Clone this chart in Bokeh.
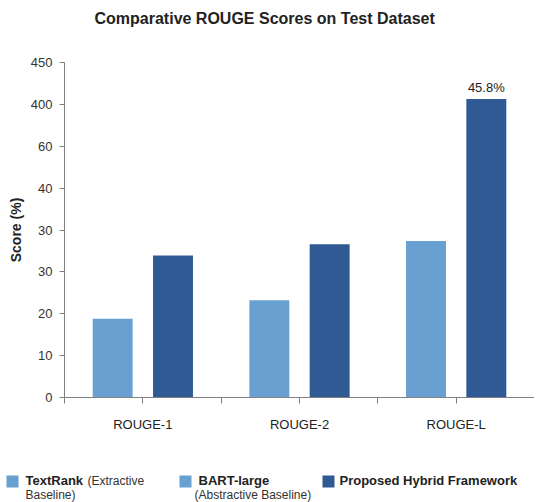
from bokeh.plotting import figure
from bokeh.models import Range1d, FixedTicker, ColumnDataSource, Title
from bokeh.embed import file_html
from bokeh.resources import INLINE
from bokeh.core.properties import value
from bokeh.transform import dodge

# ---- data (values in axis units; the y axis carries the source's tick labels) ----
categories = ["ROUGE-1", "ROUGE-2", "ROUGE-L"]
baseline_scores = [18.8, 23.2, 37.4]
hybrid_scores = [33.9, 36.6, 71.3]
hybrid_labels = ["", "", "45.8%"]
y_ticks = [0, 10, 20, 30, 40, 50, 60, 70, 80]
y_tick_labels = ["0", "10", "20", "30", "30", "40", "60", "400", "450"]

legend_names = ["TextRank", "BART-large", "Proposed Hybrid Framework"]
legend_notes = ["(Extractive", "Baseline)", "(Abstractive Baseline)"]

LIGHT = "#68a0d2"
DARK = "#305a94"
FONT = "Liberation Sans"
W = 534

positions = [2 * i + 1 for i in range(len(categories))]
src = ColumnDataSource(dict(pos=positions, cat=categories, base=baseline_scores,
                            hyb=hybrid_scores, lab=hybrid_labels))

p = figure(width=W, height=434, output_backend="svg", toolbar_location=None,
           x_range=Range1d(0, 6), y_range=Range1d(0, 80), title=None,
           min_border_left=64, min_border_right=0, min_border_top=62, min_border_bottom=35)
p.outline_line_color = None
p.xgrid.visible = False
p.ygrid.visible = False

p.vbar(x=dodge("pos", -0.385, range=p.x_range), top="base", width=0.51, source=src,
       fill_color=LIGHT, line_color=None)
p.vbar(x=dodge("pos", 0.385, range=p.x_range), top="hyb", width=0.51, source=src,
       fill_color=DARK, line_color=None)
p.text(x=dodge("pos", 0.385, range=p.x_range), y="hyb", text="lab", source=src,
       text_align="center", text_baseline="bottom", y_offset=-4,
       text_font=value(FONT), text_font_size="13px", text_color="#222222")

# title: a blank spacer panel next to the frame, then the real title above it
spacer = Title(text=" ", text_font_size="10px", standoff=12)
p.add_layout(spacer, "above")
title = Title(text="Comparative ROUGE Scores on Test Dataset", text_font=FONT,
              text_font_size="16px", text_font_style="bold", text_color="#222222",
              align="left", offset=30, vertical_align="top", standoff=18)
p.add_layout(title, "above")

# y axis
ya = p.yaxis[0]
ya.ticker = FixedTicker(ticks=y_ticks)
ya.major_label_overrides = {t: l for t, l in zip(y_ticks, y_tick_labels)}
ya.axis_label = "Score (%)"
ya.axis_label_text_font = FONT
ya.axis_label_text_font_style = "bold"
ya.axis_label_text_font_size = "14px"
ya.axis_label_text_color = "#222222"
ya.axis_label_standoff = 4
ya.major_label_text_font = FONT
ya.major_label_text_font_size = "13px"
ya.major_label_text_color = "#333333"
ya.major_label_standoff = 7
ya.major_tick_out = 5
ya.major_tick_in = 0
ya.minor_tick_out = 0
ya.minor_tick_in = 0
ya.axis_line_color = "#808080"
ya.major_tick_line_color = "#808080"

# x axis
xa = p.xaxis[0]
xt = [0, 1, 2, 3, 4, 5, 6]
xa.ticker = FixedTicker(ticks=xt)
overrides = {t: "" for t in xt}
for pos, cat in zip(positions, categories):
    overrides[pos] = cat
xa.major_label_overrides = overrides
xa.major_label_text_font = FONT
xa.major_label_text_font_size = "13px"
xa.major_label_text_color = "#222222"
xa.major_label_standoff = 13
xa.major_tick_out = 6
xa.major_tick_in = 0
xa.minor_tick_out = 0
xa.minor_tick_in = 0
xa.axis_line_color = "#808080"
xa.major_tick_line_color = "#808080"

# ---- legend strip (separate root, pixel coordinates, y downward) ----
LH = 68
lg = figure(width=W, height=LH, output_backend="svg", toolbar_location=None,
            x_range=Range1d(0, W), y_range=Range1d(LH, 0),
            x_axis_type=None, y_axis_type=None,
            min_border_left=0, min_border_right=0, min_border_top=0, min_border_bottom=0)
lg.outline_line_color = None
lg.xgrid.visible = False
lg.ygrid.visible = False

row1, row2 = 46, 60
lg.rect(x=[12, 185, 328], y=[row1 + 1] * 3, width=12, height=12,
        fill_color=[LIGHT, LIGHT, DARK], line_color=None)
lg.text(x=[25, 198, 339], y=[row1] * 3, text=legend_names,
        text_font=value(FONT), text_font_style="bold", text_font_size="13px",
        text_baseline="middle", text_color="#222222")
lg.text(x=[87, 25, 194], y=[row1, row2, row2], text=legend_notes,
        text_font=value(FONT), text_font_size="12px",
        text_baseline="middle", text_color="#333333")

open("out.html", "w").write(file_html([p, lg], INLINE))
